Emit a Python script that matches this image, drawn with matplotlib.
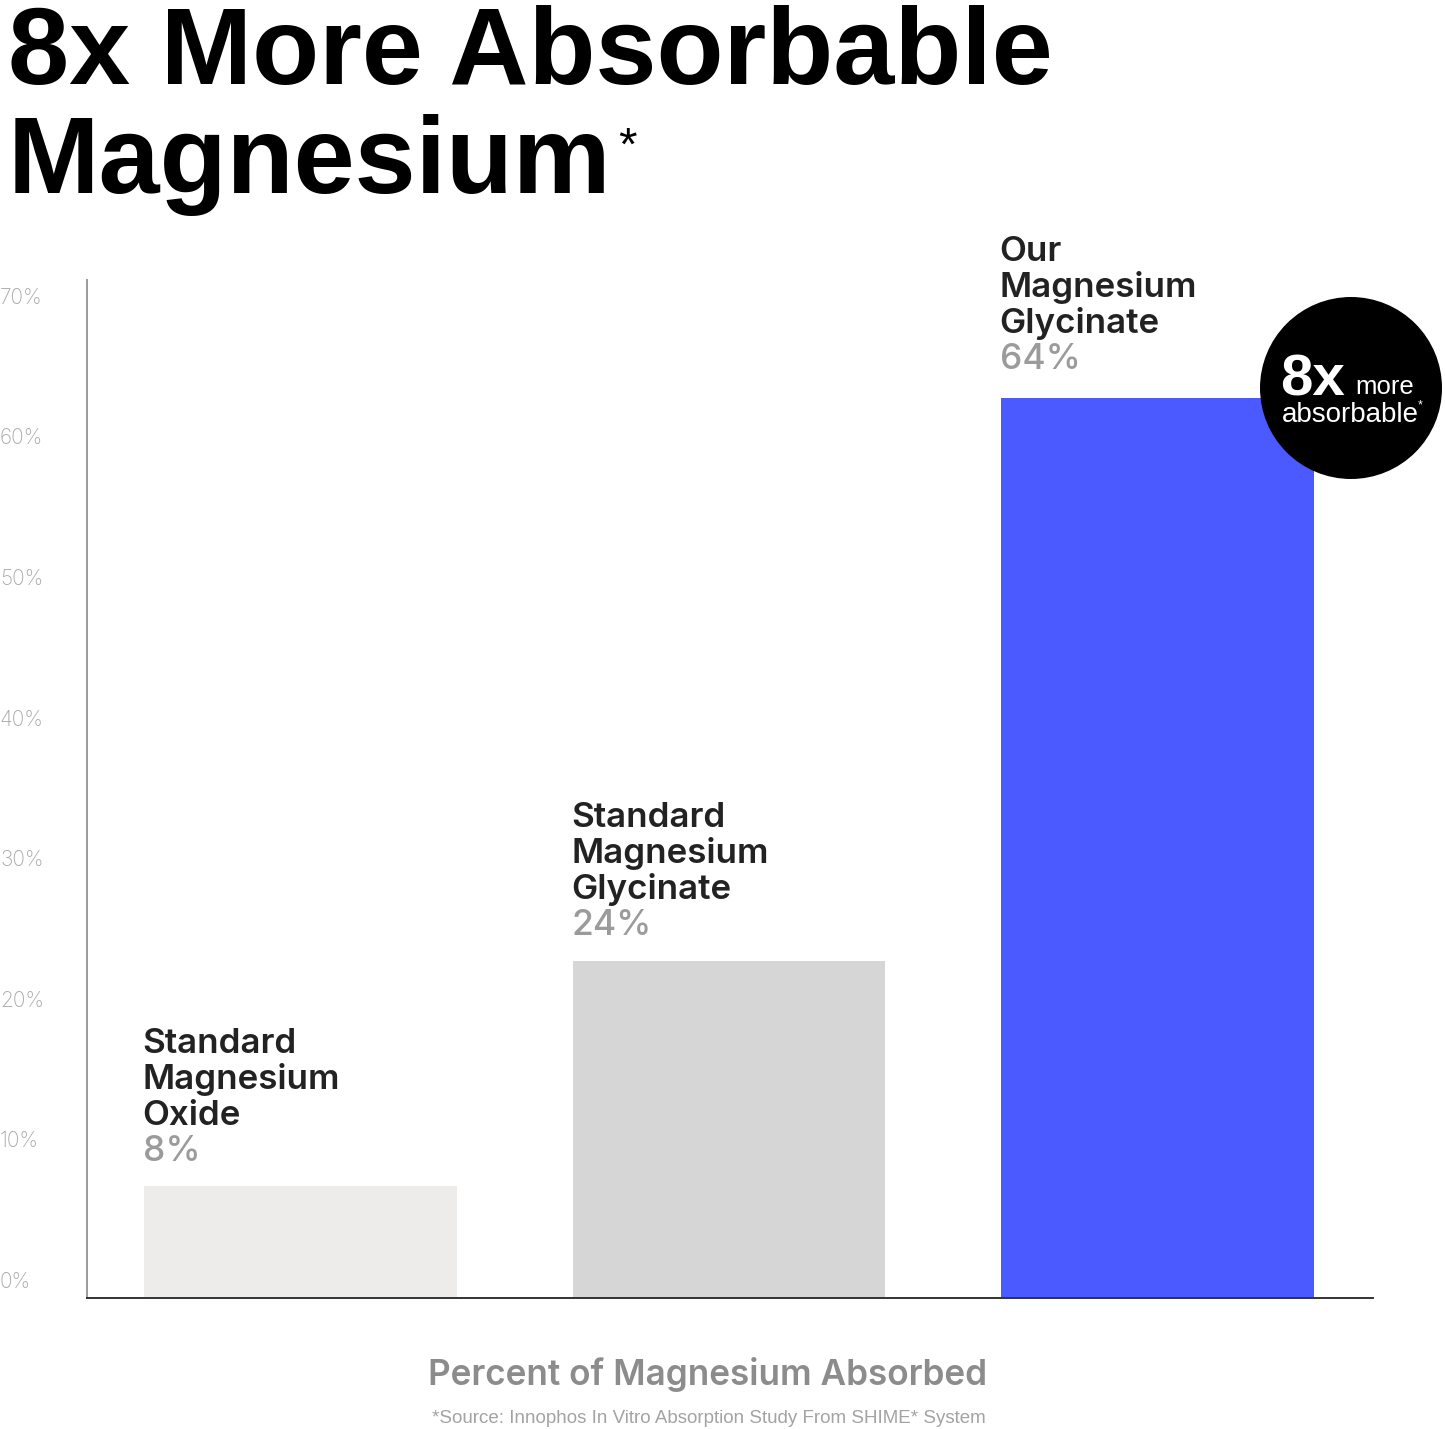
import matplotlib
matplotlib.use("Agg")
import matplotlib.pyplot as plt
from matplotlib.patches import Circle
from matplotlib.transforms import blended_transform_factory, ScaledTranslation

# ---- data ----
categories = ["Standard\nMagnesium\nOxide", "Standard\nMagnesium\nGlycinate", "Our\nMagnesium\nGlycinate"]
values = [8, 24, 64]
value_labels = ["8%", "24%", "64%"]
bar_colors = ["#edeceb", "#d6d6d6", "#4a5afe"]
tick_values = [0, 10, 20, 30, 40, 50, 60, 70]
tick_labels = ["0%", "10%", "20%", "30%", "40%", "50%", "60%", "70%"]
title_lines = ["8x More Absorbable", "Magnesium"]
xlabel = "Percent of Magnesium Absorbed"
footnote = "*Source: Innophos In Vitro Absorption Study From SHIME* System"

W, H = 1445, 1429
DPI = 100
fig = plt.figure(figsize=(W / DPI, H / DPI), dpi=DPI)
fig.patch.set_facecolor("white")

def fx(x):
    return x / W

def fy(y):
    return 1 - y / H

BODY = ["Inter", "DejaVu Sans"]
HEAD = ["Liberation Sans", "DejaVu Sans"]

# axes
ax_l, ax_r, ax_t, ax_b = 87, 1373, 280, 1298
ax = fig.add_axes([fx(ax_l), fy(ax_b), (ax_r - ax_l) / W, (ax_b - ax_t) / H])
px_per_unit_y = 14.06
ax.set_ylim(0, (ax_b - ax_t) / px_per_unit_y)
ax.set_xlim(-0.498, 2.503)

x = list(range(len(values)))
bars = ax.bar(x, values, width=0.730, color=bar_colors, zorder=2)

for s in ["top", "right"]:
    ax.spines[s].set_visible(False)
ax.spines["left"].set_color("#9a9a9a")
ax.spines["left"].set_linewidth(1.4)
ax.spines["bottom"].set_color("#333333")
ax.spines["bottom"].set_linewidth(1.4)
ax.set_xticks([])
ax.set_yticks([])

# y tick labels (shifted up relative to data position, as in reference)
trans = blended_transform_factory(fig.transFigure, ax.transData) + ScaledTranslation(0, 16 / DPI, fig.dpi_scale_trans)
for v, lab in zip(tick_values, tick_labels):
    ax.text(0.0, v, lab, transform=trans, ha="left", va="center",
            fontsize=15, color="#a9a9a9", family=BODY, fontweight="light", clip_on=False)

# bar labels
gap = [25, 26, 29]
line_px = 36
for i, (b, cat, vl) in enumerate(zip(bars, categories, value_labels)):
    left = b.get_x()
    top = b.get_height()
    ax.annotate(vl, xy=(left, top), xytext=(-1, gap[i] * 0.72), textcoords="offset points",
                ha="left", va="baseline", fontsize=25.5, color="#9b9b9b", family=BODY,
                fontweight="medium", annotation_clip=False)
    for j, line in enumerate(reversed(cat.split("\n"))):
        ax.annotate(line, xy=(left, top), xytext=(-1, (gap[i] + line_px * (j + 1)) * 0.72),
                    textcoords="offset points", ha="left", va="baseline", fontsize=25.2,
                    color="#222222", family=BODY, fontweight="semibold", annotation_clip=False)

# title
fig.text(fx(8), fy(84), title_lines[0], ha="left", va="baseline", fontsize=79,
         fontweight="bold", family=HEAD, color="black")
fig.text(fx(8), fy(193), title_lines[1], ha="left", va="baseline", fontsize=79,
         fontweight="bold", family=HEAD, color="black")
fig.text(fx(618), fy(160), "*", ha="left", va="baseline", fontsize=34,
         family=HEAD, color="black")

# badge
circ = Circle((1351 / DPI, (H - 388) / DPI), 91 / DPI, transform=fig.dpi_scale_trans,
              facecolor="black", edgecolor="none", zorder=5)
fig.patches.append(circ)
fig.text(fx(1280), fy(396), "8x", ha="left", va="baseline", fontsize=42, fontweight="bold",
         family=HEAD, color="white", zorder=6)
fig.text(fx(1355), fy(394), "more", ha="left", va="baseline", fontsize=18.5,
         family=HEAD, color="white", zorder=6)
fig.text(fx(1282), fy(422), "absorbable", ha="left", va="baseline", fontsize=20,
         family=HEAD, color="white", zorder=6)
fig.text(fx(1418), fy(408), "*", ha="left", va="baseline", fontsize=9,
         family=HEAD, color="white", zorder=6)

# x label and footnote
fig.text(fx(708), fy(1385), xlabel, ha="center", va="baseline", fontsize=25.3,
         fontweight="semibold", family=BODY, color="#8c8c8c")
fig.text(fx(709), fy(1423), footnote, ha="center", va="baseline", fontsize=13.5,
         family=HEAD, color="#a3a3a3")

fig.savefig("out.png", dpi=DPI, facecolor="white")
